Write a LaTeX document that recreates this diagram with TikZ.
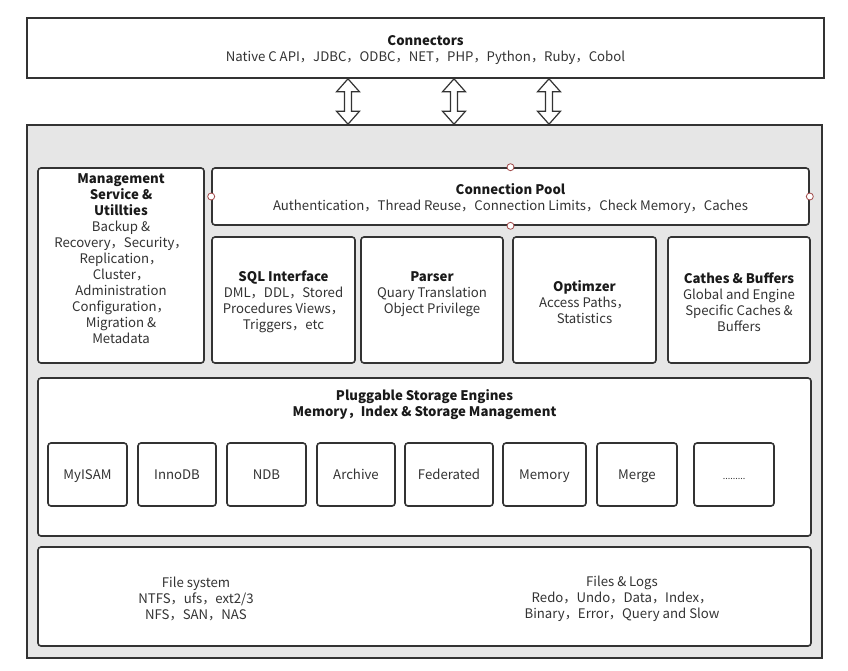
\documentclass[tikz,border=0pt]{standalone}
\usepackage{fontspec}
\setmainfont{Noto Sans CJK SC}
\usetikzlibrary{calc}
\definecolor{bd}{HTML}{333333}
\definecolor{txt}{HTML}{333333}
\definecolor{ttl}{HTML}{1A1A1A}
\definecolor{bgg}{HTML}{E6E6E6}
\definecolor{dotc}{HTML}{A04848}
\begin{document}
\begin{tikzpicture}[x=1pt,y=-1pt,
  box/.style={draw=bd, line width=1.6pt, rounded corners=3pt, fill=white, inner sep=0pt},
  outer/.style={draw=bd, line width=1.6pt, inner sep=0pt},
  lbl/.style={align=center, inner sep=0pt, font=\fontsize{13.2}{16}\selectfont, text=txt, yshift=-2pt},
  elbl/.style={lbl, anchor=base},
  arrowst/.style={draw=bd, fill=white, line width=1.2pt, line join=miter},
  port/.style={circle, draw=dotc, fill=white, minimum size=7pt, inner sep=0pt, line width=0.8pt}
]
\useasboundingbox (0,0) rectangle (848,670);
\fill[white] (0,0) rectangle (848,670);
\newcommand{\ttlb}[1]{{\bfseries\color{ttl}#1}}

% Connectors
\node[outer, fill=white, minimum width=797pt, minimum height=60pt] (conn) at (425.5,48) {};
\node[lbl] (connt) at (conn.center)
  {\ttlb{Connectors}\\Native C API，JDBC，ODBC，NET，PHP，Python，Ruby，Cobol};

% Server gray box
\node[outer, fill=bgg, minimum width=795pt, minimum height=533pt] (server) at (424.5,391.5) {};

% arrows
\newcommand{\dblarrow}[2]{%
  \coordinate (#1x) at (#2,0);
  \coordinate (#1t) at (conn.south -| #1x);
  \coordinate (#1b) at (server.north -| #1x);
  \draw[arrowst] (#1t) -- ($(#1t)+(11.5,13)$) -- ($(#1t)+(3.5,13)$) -- ($(#1b)+(3.5,-13)$)
    -- ($(#1b)+(11.5,-13)$) -- (#1b) -- ($(#1b)+(-11.5,-13)$) -- ($(#1b)+(-3.5,-13)$)
    -- ($(#1t)+(-3.5,13)$) -- ($(#1t)+(-11.5,13)$) -- cycle;}
\dblarrow{a1}{348}
\dblarrow{a2}{454}
\dblarrow{a3}{549}

% Management
\node[box, minimum width=166pt, minimum height=195pt] (mgmt) at (121,265.5) {};
\node[lbl] (mgmtt) at (121,257)
  {\ttlb{Management}\\\ttlb{Service \&}\\\ttlb{Utillties}\\Backup \&\\Recovery，Security，\\Replication，\\Cluster，\\Administration\\Configuration，\\Migration \&\\Metadata};

% Connection pool
\node[box, minimum width=597pt, minimum height=57pt] (pool) at (510.5,196.5) {};
\node[lbl] (poolt) at (pool.center)
  {\ttlb{Connection Pool}\\Authentication，Thread Reuse，Connection Limits，Check Memory，Caches};
\node[port] (p1) at (pool.north) {};
\node[port] (p2) at (pool.south) {};
\node[port] (p3) at (pool.west) {};
\node[port] (p4) at (pool.east) {};

% middle row
\node[box, minimum width=143pt, minimum height=126pt] (sql) at (283.5,300) {};
\node[lbl] (sqlt) at (sql.center)
  {\ttlb{SQL Interface}\\DML，DDL，Stored\\Procedures Views，\\Triggers，etc};
\node[box, minimum width=142pt, minimum height=126pt] (parser) at (432,300) {};
\node[lbl] (parsert) at ($(parser.center)+(0,-8)$)
  {\ttlb{Parser}\\Quary Translation\\Object Privilege};
\node[box, minimum width=143pt, minimum height=126pt] (opt) at (584.5,300) {};
\node[lbl] (optt) at (opt.center)
  {\ttlb{Optimzer}\\Access Paths，\\Statistics};
\node[box, minimum width=142pt, minimum height=126pt] (cache) at (739,300) {};
\node[lbl] (cachet) at (cache.center)
  {\ttlb{Cathes \& Buffers}\\Global and Engine\\Specific Caches \&\\Buffers};

% Pluggable storage engines
\node[box, minimum width=773pt, minimum height=158pt] (plug) at (424.5,457) {};
\node[lbl] (plugt) at (424.5,403)
  {\ttlb{Pluggable Storage Engines}\\\ttlb{Memory，Index \& Storage Management}};

\node[box, minimum width=79pt, minimum height=63pt] (e1) at (87.5,474.5) {};
\node[box, minimum width=78pt, minimum height=63pt] (e2) at (177,474.5) {};
\node[box, minimum width=79pt, minimum height=63pt] (e3) at (266.5,474.5) {};
\node[box, minimum width=78pt, minimum height=63pt] (e4) at (356,474.5) {};
\node[box, minimum width=88pt, minimum height=63pt] (e5) at (449,474.5) {};
\node[box, minimum width=83pt, minimum height=63pt] (e6) at (544.5,474.5) {};
\node[box, minimum width=80pt, minimum height=63pt] (e7) at (637,474.5) {};
\node[box, minimum width=80pt, minimum height=63pt] (e8) at (734,474.5) {};
\node[elbl] (e1t) at ($(e1.center)+(0,3)$) {MyISAM};
\node[elbl] (e2t) at ($(e2.center)+(0,3)$) {InnoDB};
\node[elbl] (e3t) at ($(e3.center)+(0,3)$) {NDB};
\node[elbl] (e4t) at ($(e4.center)+(0,3)$) {Archive};
\node[elbl] (e5t) at ($(e5.center)+(0,3)$) {Federated};
\node[elbl] (e6t) at ($(e6.center)+(0,3)$) {Memory};
\node[elbl] (e7t) at ($(e7.center)+(0,3)$) {Merge};
\node[elbl, font=\fontsize{9}{10}\selectfont] (e8t) at ($(e8.center)+(0,3)$) {.........};

% bottom
\node[box, minimum width=773pt, minimum height=99pt] (files) at (424.5,596.5) {};
\node[lbl] (fs) at (196,597) {File system\\NTFS，ufs，ext2/3\\NFS，SAN，NAS};
\node[lbl] (fl) at (622,597) {Files \& Logs\\Redo，Undo，Data，Index，\\Binary，Error，Query and Slow};
\end{tikzpicture}
\end{document}
